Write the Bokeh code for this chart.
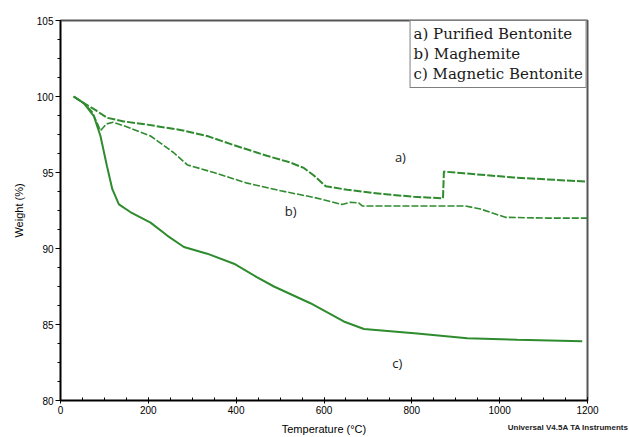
from bokeh.plotting import figure
from bokeh.models import Range1d, SingleIntervalTicker, Label, Legend, LegendItem
from bokeh.embed import file_html
from bokeh.resources import INLINE

# Purified Bentonite (a)
temp_a = [30, 53, 80, 106, 144, 197, 273, 334, 395, 470, 524, 554, 577, 604, 653, 729, 804, 871, 873, 918, 1032, 1196]
weight_a = [100.0, 99.56, 99.1, 98.6, 98.36, 98.15, 97.8, 97.4, 96.8, 96.1, 95.65, 95.3, 94.8, 94.1, 93.86, 93.6, 93.4, 93.3, 95.06, 94.95, 94.67, 94.4]

# Maghemite (b)
temp_b = [30, 53, 72, 91, 105, 120, 152, 205, 258, 289, 349, 425, 501, 577, 641, 660, 679, 687, 804, 922, 956, 987, 1013, 1108, 1199]
weight_b = [100.0, 99.56, 99.0, 97.75, 98.2, 98.3, 98.0, 97.4, 96.3, 95.5, 95.0, 94.3, 93.8, 93.36, 92.9, 93.04, 93.0, 92.8, 92.8, 92.8, 92.6, 92.3, 92.05, 92.0, 92.0]

# Magnetic Bentonite (c)
temp_c = [30, 53, 76, 91, 106, 118, 133, 159, 205, 243, 281, 334, 395, 448, 486, 569, 645, 691, 812, 926, 1040, 1188]
weight_c = [100.0, 99.56, 98.7, 97.4, 95.4, 93.9, 92.9, 92.4, 91.7, 90.85, 90.1, 89.66, 89.0, 88.1, 87.5, 86.4, 85.2, 84.7, 84.4, 84.1, 84.0, 83.9]

legend_labels = ["a) Purified Bentonite", "b) Maghemite", "c) Magnetic Bentonite"]
curve_tags = ["a)", "b)", "c)"]
tag_x = [774, 524, 767]
tag_y = [96.0, 92.5, 82.5]
footer_text = "Universal V4.5A TA Instruments"

GREEN = "#2e8b2e"

p = figure(width=629, height=437, output_backend="svg", toolbar_location=None,
           x_range=Range1d(0, 1200), y_range=Range1d(80, 105),
           min_border_left=60, min_border_right=42, min_border_top=20, min_border_bottom=34)
p.xgrid.visible = False
p.ygrid.visible = False
p.outline_line_color = "#555555"
p.outline_line_width = 2
p.background_fill_color = "white"
p.border_fill_color = "white"

p.xaxis.ticker = SingleIntervalTicker(interval=200, num_minor_ticks=4)
p.yaxis.ticker = SingleIntervalTicker(interval=5, num_minor_ticks=4)
for ax in (p.xaxis, p.yaxis):
    ax.axis_line_color = "black"
    ax.axis_line_width = 1.5
    ax.major_tick_line_color = "black"
    ax.minor_tick_line_color = "black"
    ax.major_label_text_font = "Liberation Sans"
    ax.major_label_text_font_size = "10px"
    ax.major_label_text_color = "black"
    ax.axis_label_text_font = "Liberation Sans"
    ax.axis_label_text_font_size = "11px"
    ax.axis_label_text_font_style = "normal"
    ax.axis_label_text_color = "black"
p.xaxis.major_tick_in = 3
p.xaxis.major_tick_out = 3
p.xaxis.minor_tick_in = 3
p.xaxis.minor_tick_out = 0
p.yaxis.major_tick_in = 0
p.yaxis.major_tick_out = 5
p.yaxis.minor_tick_in = 0
p.yaxis.minor_tick_out = 3
p.xaxis.major_label_standoff = 2
p.yaxis.major_label_standoff = 2
p.xaxis.axis_label = "Temperature (°C)"
p.yaxis.axis_label = "Weight (%)"
p.xaxis.axis_label_standoff = 6
p.yaxis.axis_label_standoff = 9

ra = p.line(temp_a, weight_a, line_color=GREEN, line_width=2, line_dash="8 2")
rb = p.line(temp_b, weight_b, line_color=GREEN, line_width=1.6, line_dash="7 2")
rc = p.line(temp_c, weight_c, line_color=GREEN, line_width=2)

for t, x, y in zip(curve_tags, tag_x, tag_y):
    p.add_layout(Label(x=x, y=y, text=t, text_font="Open Sans", text_font_size="13px",
                       text_color="#222222", text_align="center", text_baseline="middle"))

legend = Legend(items=[LegendItem(label=l, renderers=[r]) for l, r in zip(legend_labels, [ra, rb, rc])],
                location="top_right", margin=0, padding=3, spacing=0,
                glyph_width=0, glyph_height=20, label_height=20, label_standoff=0,
                label_text_font="DejaVu Serif", label_text_font_size="15px",
                label_text_color="#1a1a1a",
                border_line_color="black", border_line_width=1.5,
                background_fill_color="white", background_fill_alpha=1.0)
p.add_layout(legend)

# footer lives in the (otherwise empty) top side panel so it is not clipped to the frame;
# its position is still computed from the data scales
p.add_layout(Label(x=1200, y=80, x_offset=41, y_offset=-27, text=footer_text,
                   text_font="Liberation Sans", text_font_size="8px", text_font_style="bold",
                   text_color="#222222", text_align="right", text_baseline="middle"), "above")

open("out.html", "w").write(file_html(p, INLINE))
